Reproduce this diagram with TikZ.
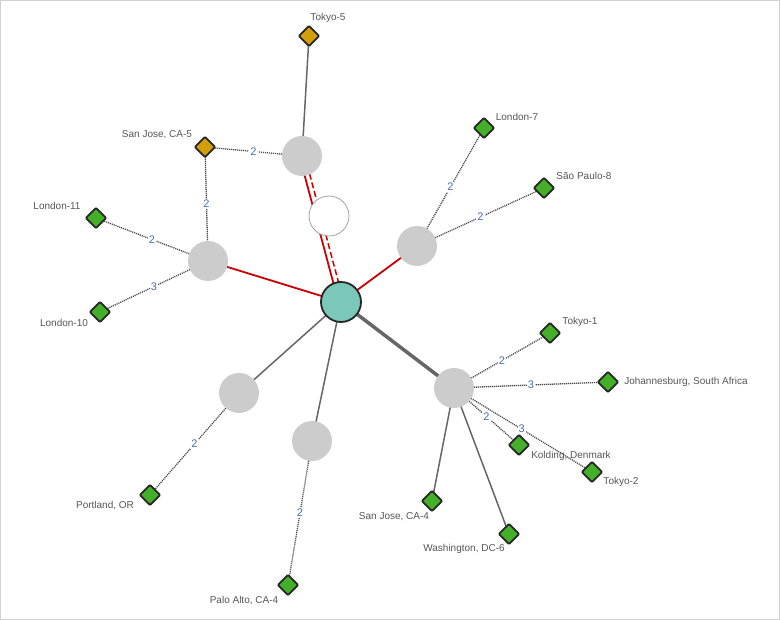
\documentclass[tikz,border=0pt]{standalone}
\usepackage{fontspec}
\setmainfont{Liberation Sans}
\usetikzlibrary{shapes.geometric,backgrounds}
\definecolor{hubteal}{HTML}{7CC8B8}
\definecolor{hubgray}{HTML}{CCCCCC}
\definecolor{lnred}{HTML}{CC0000}
\definecolor{lngray}{HTML}{666666}
\definecolor{dotgray}{HTML}{4A4A4A}
\definecolor{numblue}{HTML}{4A6FA8}
\definecolor{txtgray}{HTML}{555555}
\definecolor{dgreen}{HTML}{44B02A}
\definecolor{dgold}{HTML}{D39E0A}
\tikzset{
  hub/.style={circle,fill=hubgray,minimum size=40pt,inner sep=0pt},
  whitehub/.style={circle,fill=white,draw=hubgray!80!black,line width=0.8pt,minimum size=40pt,inner sep=0pt},
  centerhub/.style={circle,fill=hubteal,draw=black!85,line width=1.8pt,minimum size=40pt,inner sep=0pt},
  site/.style={diamond,fill=dgreen,draw=black!85,line width=1.9pt,minimum size=21pt,inner sep=0pt,rounded corners=1pt},
  goldsite/.style={site,fill=dgold},
  lbl/.style={text=txtgray,font=\fontsize{10}{12}\selectfont,inner sep=0pt},
  dotlink/.style={draw=dotgray,line width=1.3pt,dash pattern=on 1.1pt off 0.9pt},
  thinlink/.style={draw=lngray,line width=1.5pt},
  thicklink/.style={draw=lngray,line width=3.5pt},
  redlink/.style={draw=lnred,line width=1.8pt},
  num/.style={fill=white,text=numblue,font=\fontsize{11}{12}\selectfont,inner sep=1pt}
}
\begin{document}
\begin{tikzpicture}[x=1pt,y=-1pt]
\useasboundingbox (0,0) rectangle (780,620);
\draw[draw=black!18,line width=0.8pt] (0.5,0.5) rectangle (779.5,619.5);
% hubs
\node[centerhub] (C) at (341,302) {};
\node[hub] (G1) at (302,156) {};
\node[whitehub] (W) at (329,216) {};
\node[hub] (G2) at (417,246) {};
\node[hub] (G3) at (208,261) {};
\node[hub] (G4) at (454,388) {};
\node[hub] (G5) at (239,393) {};
\node[hub] (G6) at (312,441) {};
% sites
\node[goldsite] (T5) at (309,36) {};
\node[goldsite] (SJ5) at (205,147) {};
\node[site] (L11) at (96,218) {};
\node[site] (L10) at (100,312) {};
\node[site] (L7) at (484,128) {};
\node[site] (SP8) at (544,188) {};
\node[site] (T1) at (550,333) {};
\node[site] (JB) at (608,382) {};
\node[site] (KD) at (519,445) {};
\node[site] (T2) at (592,472) {};
\node[site] (SJ4) at (432,501) {};
\node[site] (DC6) at (509,534) {};
\node[site] (PO) at (150,495) {};
\node[site] (PA) at (288,585) {};
% labels
\node[lbl] (lT5) at (328,18) {Tokyo-5};
\node[lbl] (lSJ5) at (157,135) {San Jose, CA-5};
\node[lbl] (lL11) at (57,206) {London-11};
\node[lbl] (lL10) at (64,323) {London-10};
\node[lbl] (lL7) at (517,117) {London-7};
\node[lbl] (lSP8) at (584,176) {São Paulo-8};
\node[lbl] (lT1) at (580,322) {Tokyo-1};
\node[lbl] (lJB) at (686,382) {Johannesburg, South Africa};
\node[lbl] (lKD) at (571,456) {Kolding, Denmark};
\node[lbl] (lT2) at (621,482) {Tokyo-2};
\node[lbl] (lSJ4) at (394,517) {San Jose, CA-4};
\node[lbl] (lDC6) at (464,549) {Washington, DC-6};
\node[lbl] (lPO) at (105,506) {Portland, OR};
\node[lbl] (lPA) at (244,601) {Palo Alto, CA-4};
% links
\begin{scope}[on background layer]
\draw[redlink,transform canvas={xshift=-2.4pt,yshift=-0.65pt}] (C.center) -- (G1.center);
\draw[redlink,dashed,dash pattern=on 6pt off 3pt,line width=1.5pt,transform canvas={xshift=2.6pt,yshift=0.7pt}] (C.center) -- (G1.center);
\draw[redlink] (C.center) -- (G2.center);
\draw[redlink] (C.center) -- (G3.center);
\draw[thicklink] (C.center) -- (G4.center);
\draw[thinlink] (C.center) -- (G5.center);
\draw[thinlink] (C.center) -- (G6.center);
\draw[thinlink] (G1.center) -- (T5.center);
\draw[thinlink] (G4.center) -- (SJ4.center);
\draw[thinlink] (G4.center) -- (DC6.center);
\draw[dotlink] (G1.center) -- node[num] (n1) {2} (SJ5.center);
\draw[dotlink] (SJ5.center) -- node[num] (n2) {2} (G3.center);
\draw[dotlink] (G3.center) -- node[num] (n3) {2} (L11.center);
\draw[dotlink] (G3.center) -- node[num] (n4) {3} (L10.center);
\draw[dotlink] (G2.center) -- node[num] (n5) {2} (L7.center);
\draw[dotlink] (G2.center) -- node[num] (n6) {2} (SP8.center);
\draw[dotlink] (G4.center) -- node[num] (n7) {2} (T1.center);
\draw[dotlink] (G4.center) -- node[num] (n8) {3} (JB.center);
\draw[dotlink] (G4.center) -- node[num] (n9) {2} (KD.center);
\draw[dotlink] (G4.center) -- node[num,pos=0.49] (n10) {3} (T2.center);
\draw[dotlink] (G5.center) -- node[num] (n11) {2} (PO.center);
\draw[dotlink] (G6.center) -- node[num] (n12) {2} (PA.center);
\end{scope}
\end{tikzpicture}
\end{document}
